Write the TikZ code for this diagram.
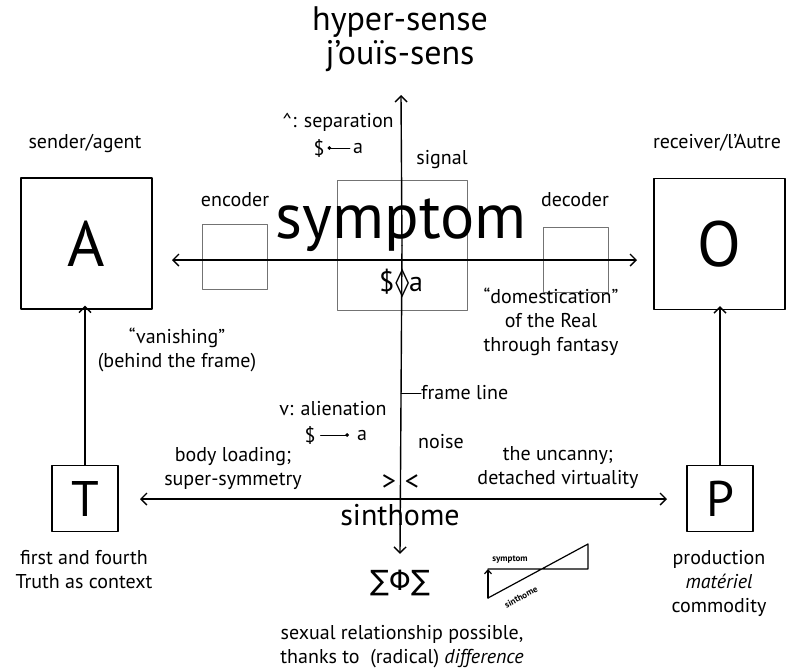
\documentclass[tikz,border=0pt]{standalone}
\usepackage{fontspec}
\setmainfont{PT Sans}
\newfontfamily\symbfont{DejaVu Sans}
\usetikzlibrary{arrows.meta}

\tikzset{
  lbl/.style={font=\fontsize{20}{24}\selectfont, align=center, inner sep=0pt},
  tinylbl/.style={font=\fontsize{9}{10}\selectfont\bfseries, inner sep=0pt},
  bigbox/.style={draw, line width=1.4pt, minimum size=#1, inner sep=0pt},
  greybox/.style={draw=black!55, line width=0.9pt, minimum size=65pt, inner sep=0pt},
  axis/.style={line width=1.4pt},
  tip/.style={-{Straight Barb[length=6pt,width=12pt,line width=1.4pt]}},
  dottip/.style={line width=1pt}
}

\begin{document}
\begin{tikzpicture}[line cap=round,line join=round,x=1pt,y=-1pt]
  \useasboundingbox (0,0) rectangle (788,670);
  \node[font=\fontsize{34}{36}\selectfont, inner sep=0pt] (hyper) at (400,22) {hyper-sense};
  \node[font=\fontsize{34}{36}\selectfont, inner sep=0pt] (jouis) at (400,56) {j’ouïs-sens};

  \node[bigbox=131pt, font=\fontsize{64}{64}\selectfont] (A) at (86.5,243.5) {A};
  \node[bigbox=131pt, font=\fontsize{64}{64}\selectfont] (O) at (719.5,244) {O};
  \node[bigbox=66pt, font=\fontsize{50}{50}\selectfont] (T) at (85,498.5) {T};
  \node[bigbox=66pt, font=\fontsize{50}{50}\selectfont] (P) at (720,498.5) {P};
  \node[greybox] (enc) at (234.5,256.5) {};
  \node[greybox] (dec) at (575.5,259.5) {};
  \node[greybox, minimum size=130pt] (sig) at (402,245.5) {};

  \node[lbl] (sender) at (85,143) {sender/agent};
  \node[lbl] (receiver) at (717,143) {receiver/l’Autre};
  \node[lbl] (encoder) at (235,200) {encoder};
  \node[lbl] (decoder) at (575,200) {decoder};
  \node[lbl] (signal) at (442,160) {signal};
  \node[lbl] (separation) at (338,122) {\^{}: separation};
  \node[lbl] (sepS) at (319,148) {\$};
  \node[lbl] (sepA) at (358,148) {a};
  \node[font=\fontsize{64}{64}\selectfont, inner sep=0pt] (symptom) at (401,225) {symptom};
  \node[font=\fontsize{28}{30}\selectfont, inner sep=0pt] (barS) at (401,283) {\$\kern1pt{\symbfont ◊}a};
  \node[lbl] (domest) at (551,322) {“domestication”\\of the Real\\through fantasy};
  \node[lbl] (vanish) at (177,350) {“vanishing”\\(behind the frame)};
  \node[lbl, anchor=west] (frame) at (421,393) {frame line};
  \node[lbl] (alien) at (333,409) {v: alienation};
  \node[lbl] (alS) at (310,435) {\$};
  \node[lbl] (alA) at (362,435) {a};
  \node[lbl] (noise) at (441,442) {noise};
  \node[lbl] (body) at (233,468) {body loading;\\super-symmetry};
  \node[lbl] (uncanny) at (558,468) {the uncanny;\\detached virtuality};
  \node[font=\fontsize{28}{28}\selectfont, inner sep=0pt] (gt) at (389,483) {>};
  \node[font=\fontsize{28}{28}\selectfont, inner sep=0pt] (lt) at (412,483) {<};
  \node[font=\fontsize{30}{30}\selectfont, inner sep=0pt] (sinthome) at (400,515) {sinthome};
  \node[font=\fontsize{28}{28}\selectfont\symbfont, inner sep=0pt] (sigma) at (400,583) {∑Φ∑};
  \node[lbl] (first) at (84,570) {first and fourth\\Truth as context};
  \node[lbl] (product) at (719,583) {production\\\textit{matériel}\\commodity};
  \node[lbl] (sexual) at (402,647) {sexual relationship possible,\\thanks to \ (radical) \textit{difference}};

  \coordinate (up) at (401,95);
  \coordinate (left) at (172,260);
  \coordinate (right) at (637,260);
  \coordinate (bleft) at (140,499);
  \coordinate (bright) at (667,499);
  \coordinate (tick) at (401,393);
  \draw[axis, tip] (sig.center) -- (up);
  \draw[axis, tip] (sig.center) -- ([yshift=16pt]sigma.north);
  \draw[axis, tip] (sig.center |- left) -- (left);
  \draw[axis, tip] (sig.center |- left) -- (right);
  \draw[axis, tip] (sinthome.north |- bleft) -- (bleft);
  \draw[axis, tip] (sinthome.north |- bleft) -- (bright);
  \draw[axis, tip] (T.north) -- ([yshift=4pt]T.north |- A.south);
  \draw[axis, tip] (P.north) -- ([yshift=4pt]P.north |- O.south);
  \draw[line width=1pt] (tick) -- (frame.west);
  \draw[dottip, {Circle[length=3.5pt]}-] ([xshift=3pt]sepS.east) -- ([xshift=-3pt]sepA.west);
  \draw[dottip, -{Circle[length=3.5pt]}] ([xshift=5pt]alS.east) -- ([xshift=-8pt]alA.west);

  \coordinate (zbl) at (488,598);
  \coordinate (ztl) at (488,569);
  \coordinate (ztr) at (588,569);
  \coordinate (zrt) at (588,544);
  \draw[line width=1.2pt] (ztl) -- (ztr) -- (zrt) -- (zbl);
  \draw[line width=1.2pt, -{Straight Barb[length=4pt,width=7pt,line width=1.2pt]}] (zbl) -- (ztl);
  \node[tinylbl] (zsym) at (510,560) {symptom};
  \node[tinylbl, rotate=28] (zsin) at (521,597) {sinthome};
\end{tikzpicture}
\end{document}
